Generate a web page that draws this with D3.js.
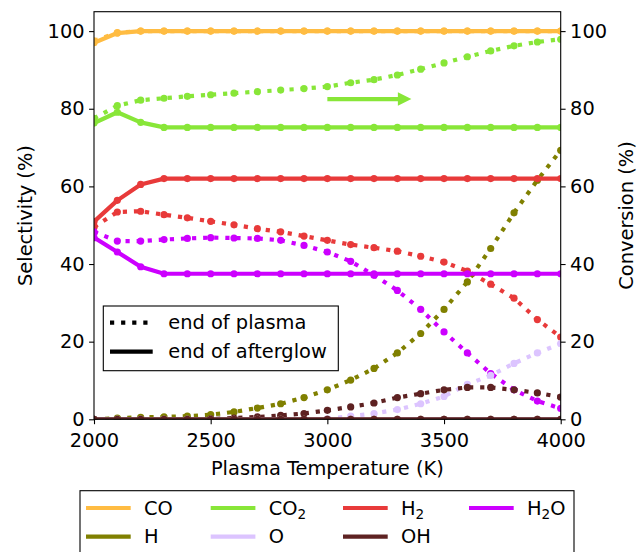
<!DOCTYPE html>
<html>
<head>
<meta charset="utf-8">
<script src="https://cdn.jsdelivr.net/npm/d3@7"></script>
<style>
  body { margin: 0; background: #fff; }
  text { font-family: "DejaVu Sans", sans-serif; }
</style>
</head>
<body>
<svg id="chart" width="639" height="552"></svg>
<script>
var temps = [2000, 2100, 2200, 2300, 2400, 2500, 2600, 2700, 2800, 2900, 3000,
             3100, 3200, 3300, 3400, 3500, 3600, 3700, 3800, 3900, 4000];

// end of plasma (dotted)
var coPlasma  = [97.5, 99.6, 100, 100, 100, 100, 100, 100, 100, 100, 100, 100, 100, 100, 100, 100, 100, 100, 100, 100, 100];
var co2Plasma = [77.5, 80.8, 82.2, 82.7, 83.2, 83.6, 84.0, 84.4, 84.8, 85.2, 85.7, 86.7, 87.5, 88.7, 90.2, 91.8, 93.4, 94.9, 96.2, 97.2, 97.9];
var h2Plasma  = [49.5, 53.4, 53.6, 52.7, 51.9, 51.0, 50.1, 49.1, 48.3, 47.2, 46.1, 45.0, 44.2, 43.3, 42.0, 40.5, 38.2, 34.8, 31.2, 25.7, 21.2];
var h2oPlasma = [48.3, 45.9, 45.9, 46.3, 46.6, 46.8, 46.7, 46.6, 46.1, 44.8, 43.1, 40.7, 37.1, 33.2, 28.3, 22.5, 17.1, 11.8, 7.6, 4.7, 2.8];
var hPlasma   = [0, 0.3, 0.5, 0.6, 0.8, 1.2, 1.9, 2.9, 4.0, 5.6, 7.6, 10.1, 13.1, 17.1, 22.1, 28.3, 35.4, 44.0, 53.2, 61.6, 69.3];
var oPlasma   = [0, 0, 0, 0, 0, 0, 0, 0, 0, 0, 0.1, 0.8, 1.5, 2.5, 4.0, 5.9, 9.0, 11.3, 14.4, 17.1, 19.5];
var ohPlasma  = [0, 0, 0, 0, 0, 0.1, 0.3, 0.6, 1.0, 1.5, 2.3, 3.2, 4.2, 5.6, 6.6, 7.6, 8.2, 8.2, 7.6, 6.8, 5.7];

// end of afterglow (solid)
var coAfter  = [97, 99.5, 100, 100, 100, 100, 100, 100, 100, 100, 100, 100, 100, 100, 100, 100, 100, 100, 100, 100, 100];
var co2After = [76.3, 79.1, 76.5, 75.2, 75.2, 75.2, 75.2, 75.2, 75.2, 75.2, 75.2, 75.2, 75.2, 75.2, 75.2, 75.2, 75.2, 75.2, 75.2, 75.2, 75.2];
var h2After  = [50.9, 56.4, 60.5, 62.0, 62.0, 62.0, 62.0, 62.0, 62.0, 62.0, 62.0, 62.0, 62.0, 62.0, 62.0, 62.0, 62.0, 62.0, 62.0, 62.0, 62.0];
var h2oAfter = [46.8, 43.1, 39.3, 37.5, 37.5, 37.5, 37.5, 37.5, 37.5, 37.5, 37.5, 37.5, 37.5, 37.5, 37.5, 37.5, 37.5, 37.5, 37.5, 37.5, 37.5];
var hAfter   = [0, 0, 0, 0, 0, 0, 0, 0, 0, 0, 0, 0, 0, 0, 0, 0, 0, 0, 0, 0, 0];
var oAfter   = [0, 0, 0, 0, 0, 0, 0, 0, 0, 0, 0, 0, 0, 0, 0, 0, 0, 0, 0, 0, 0];
var ohAfter  = [0, 0, 0, 0, 0, 0, 0, 0, 0, 0, 0, 0, 0, 0, 0, 0, 0, 0, 0, 0, 0];

var names  = ["CO", "CO2", "H2", "H2O", "H", "O", "OH"];
var labels = [["CO"], ["CO", "2"], ["H", "2"], ["H", "2", "O"], ["H"], ["O"], ["OH"]];
var colors = ["#ffbc42", "#88e638", "#e83a3a", "#cc00ff", "#808000", "#dcc4ff", "#5e2222"];
var plasmaSets = [coPlasma, co2Plasma, h2Plasma, h2oPlasma, hPlasma, oPlasma, ohPlasma];
var afterSets  = [coAfter, co2After, h2After, h2oAfter, hAfter, oAfter, ohAfter];

var xTicks = [2000, 2500, 3000, 3500, 4000];
var yTicks = [0, 20, 40, 60, 80, 100];

var margin = {top: 11.7, right: 78.3, bottom: 132.7, left: 94};
var width = 639, height = 552;
var fs = "19.4px";

var xScale = d3.scaleLinear().domain([2000, 4000]).range([margin.left, width - margin.right]);
var yScale = d3.scaleLinear().domain([0, 105]).range([height - margin.bottom, margin.top]);

var svg = d3.select('#chart');

svg.append('defs').append('clipPath').attr('id', 'plotclip')
  .append('rect')
  .attr('x', margin.left).attr('y', margin.top)
  .attr('width', xScale(4000) - xScale(2000))
  .attr('height', yScale(0) - yScale(105));

var plot = svg.append('g').attr('clip-path', 'url(#plotclip)');

var line = d3.line()
  .x(function(d){ return xScale(d[0]); })
  .y(function(d){ return yScale(d[1]); });

function pairs(vals){
  return temps.map(function(t, i){ return [t, vals[i]]; });
}

function drawSeries(vals, color, dotted){
  var pts = pairs(vals);
  plot.append('path')
    .attr('d', line(pts))
    .attr('fill', 'none')
    .attr('stroke', color)
    .attr('stroke-width', 4.2)
    .attr('stroke-dasharray', dotted ? '4.2,6.9' : null)
    .attr('stroke-linejoin', 'round');
  plot.append('g').selectAll('circle')
    .data(pts)
    .enter().append('circle')
    .attr('cx', function(d){ return xScale(d[0]); })
    .attr('cy', function(d){ return yScale(d[1]); })
    .attr('r', 3.6)
    .attr('fill', color);
}

// dotted first, then solid
plasmaSets.forEach(function(s, i){ drawSeries(s, colors[i], true); });
afterSets.forEach(function(s, i){ drawSeries(s, colors[i], false); });

// arrow towards conversion axis
var arrowFrom = [3000, 82.5], arrowTo = [3360, 82.5];
var ax0 = xScale(arrowFrom[0]), ax1 = xScale(arrowTo[0]), ay = yScale(arrowFrom[1]);
svg.append('line')
  .attr('x1', ax0).attr('x2', ax1 - 12).attr('y1', ay).attr('y2', ay)
  .attr('stroke', colors[1]).attr('stroke-width', 4.3);
svg.append('path')
  .attr('d', 'M' + [ax1 - 13.5, ay - 6.7] + 'L' + [ax1, ay] + 'L' + [ax1 - 13.5, ay + 6.7] + 'Z')
  .attr('fill', colors[1]);

// axes
var xAxis = d3.axisBottom(xScale).tickValues(xTicks).tickSize(4.9).tickSizeOuter(0).tickPadding(9.5).tickFormat(d3.format('d'));
var yAxisL = d3.axisLeft(yScale).tickValues(yTicks).tickSize(4.9).tickSizeOuter(0).tickPadding(4.5);
var yAxisR = d3.axisRight(yScale).tickValues(yTicks).tickSize(4.9).tickSizeOuter(0).tickPadding(4.5);

function styleAxis(g){
  g.select('.domain').remove();
  g.selectAll('.tick line').attr('stroke', '#000').attr('stroke-width', 1.1);
  g.selectAll('.tick text').attr('font-size', fs).attr('font-family', '"DejaVu Sans", sans-serif').attr('fill', '#000');
}

svg.append('g').attr('transform', 'translate(' + [0, yScale(0)] + ')').call(xAxis).call(styleAxis);
svg.append('g').attr('transform', 'translate(' + [margin.left, 0] + ')').call(yAxisL).call(styleAxis);
svg.append('g').attr('transform', 'translate(' + [xScale(4000), 0] + ')').call(yAxisR).call(styleAxis);

// frame
svg.append('rect')
  .attr('x', margin.left).attr('y', margin.top)
  .attr('width', xScale(4000) - xScale(2000))
  .attr('height', yScale(0) - yScale(105))
  .attr('fill', 'none').attr('stroke', '#000').attr('stroke-width', 1.1);

// axis titles
svg.append('text')
  .attr('x', (xScale(2000) + xScale(4000)) / 2).attr('y', 475)
  .attr('text-anchor', 'middle').attr('font-size', fs)
  .text('Plasma Temperature (K)');
svg.append('text')
  .attr('transform', 'translate(' + [32, (yScale(0) + yScale(105)) / 2] + ') rotate(-90)')
  .attr('text-anchor', 'middle').attr('font-size', fs)
  .text('Selectivity (%)');
svg.append('text')
  .attr('transform', 'translate(' + [633, (yScale(0) + yScale(105)) / 2] + ') rotate(-90)')
  .attr('text-anchor', 'middle').attr('font-size', fs)
  .text('Conversion (%)');

// inner legend (line styles)
var lg = svg.append('g');
lg.append('rect')
  .attr('x', 103.3).attr('y', 306).attr('width', 235).attr('height', 64.7)
  .attr('fill', '#fff').attr('fill-opacity', 0.8).attr('stroke', '#000').attr('stroke-width', 1.1);
var styleItems = [["end of plasma", true, 322.7], ["end of afterglow", false, 351.7]];
styleItems.forEach(function(it){
  lg.append('line')
    .attr('x1', 110).attr('x2', 152.7).attr('y1', it[2]).attr('y2', it[2])
    .attr('stroke', '#000').attr('stroke-width', 4.2)
    .attr('stroke-dasharray', it[1] ? '4.2,6.9' : null);
  lg.append('text')
    .attr('x', 168.3).attr('y', it[2]).attr('dy', '0.35em')
    .attr('font-size', fs).text(it[0]);
});

// bottom legend (species)
var bl = svg.append('g');
bl.append('rect')
  .attr('x', 80).attr('y', 490.7).attr('width', 494).attr('height', 80)
  .attr('fill', '#fff').attr('stroke', '#000').attr('stroke-width', 1.1);
var colX = [86, 210.7, 343, 469];
var rowY = [508, 536.7];
names.forEach(function(n, i){
  var cx = colX[i % 4], cy = rowY[Math.floor(i / 4)];
  bl.append('line')
    .attr('x1', cx).attr('x2', cx + 44.7).attr('y1', cy).attr('y2', cy)
    .attr('stroke', colors[i]).attr('stroke-width', 4.2);
  var t = bl.append('text')
    .attr('x', cx + 58).attr('y', cy).attr('dy', '0.35em')
    .attr('font-size', fs);
  var parts = labels[i];
  t.append('tspan').text(parts[0]);
  if (parts.length > 1) {
    t.append('tspan').attr('font-size', '13.6px').attr('dy', '4.5').text(parts[1]);
  }
  if (parts.length > 2) {
    t.append('tspan').attr('dy', '-4.5').text(parts[2]);
  }
});
</script>
</body>
</html>
